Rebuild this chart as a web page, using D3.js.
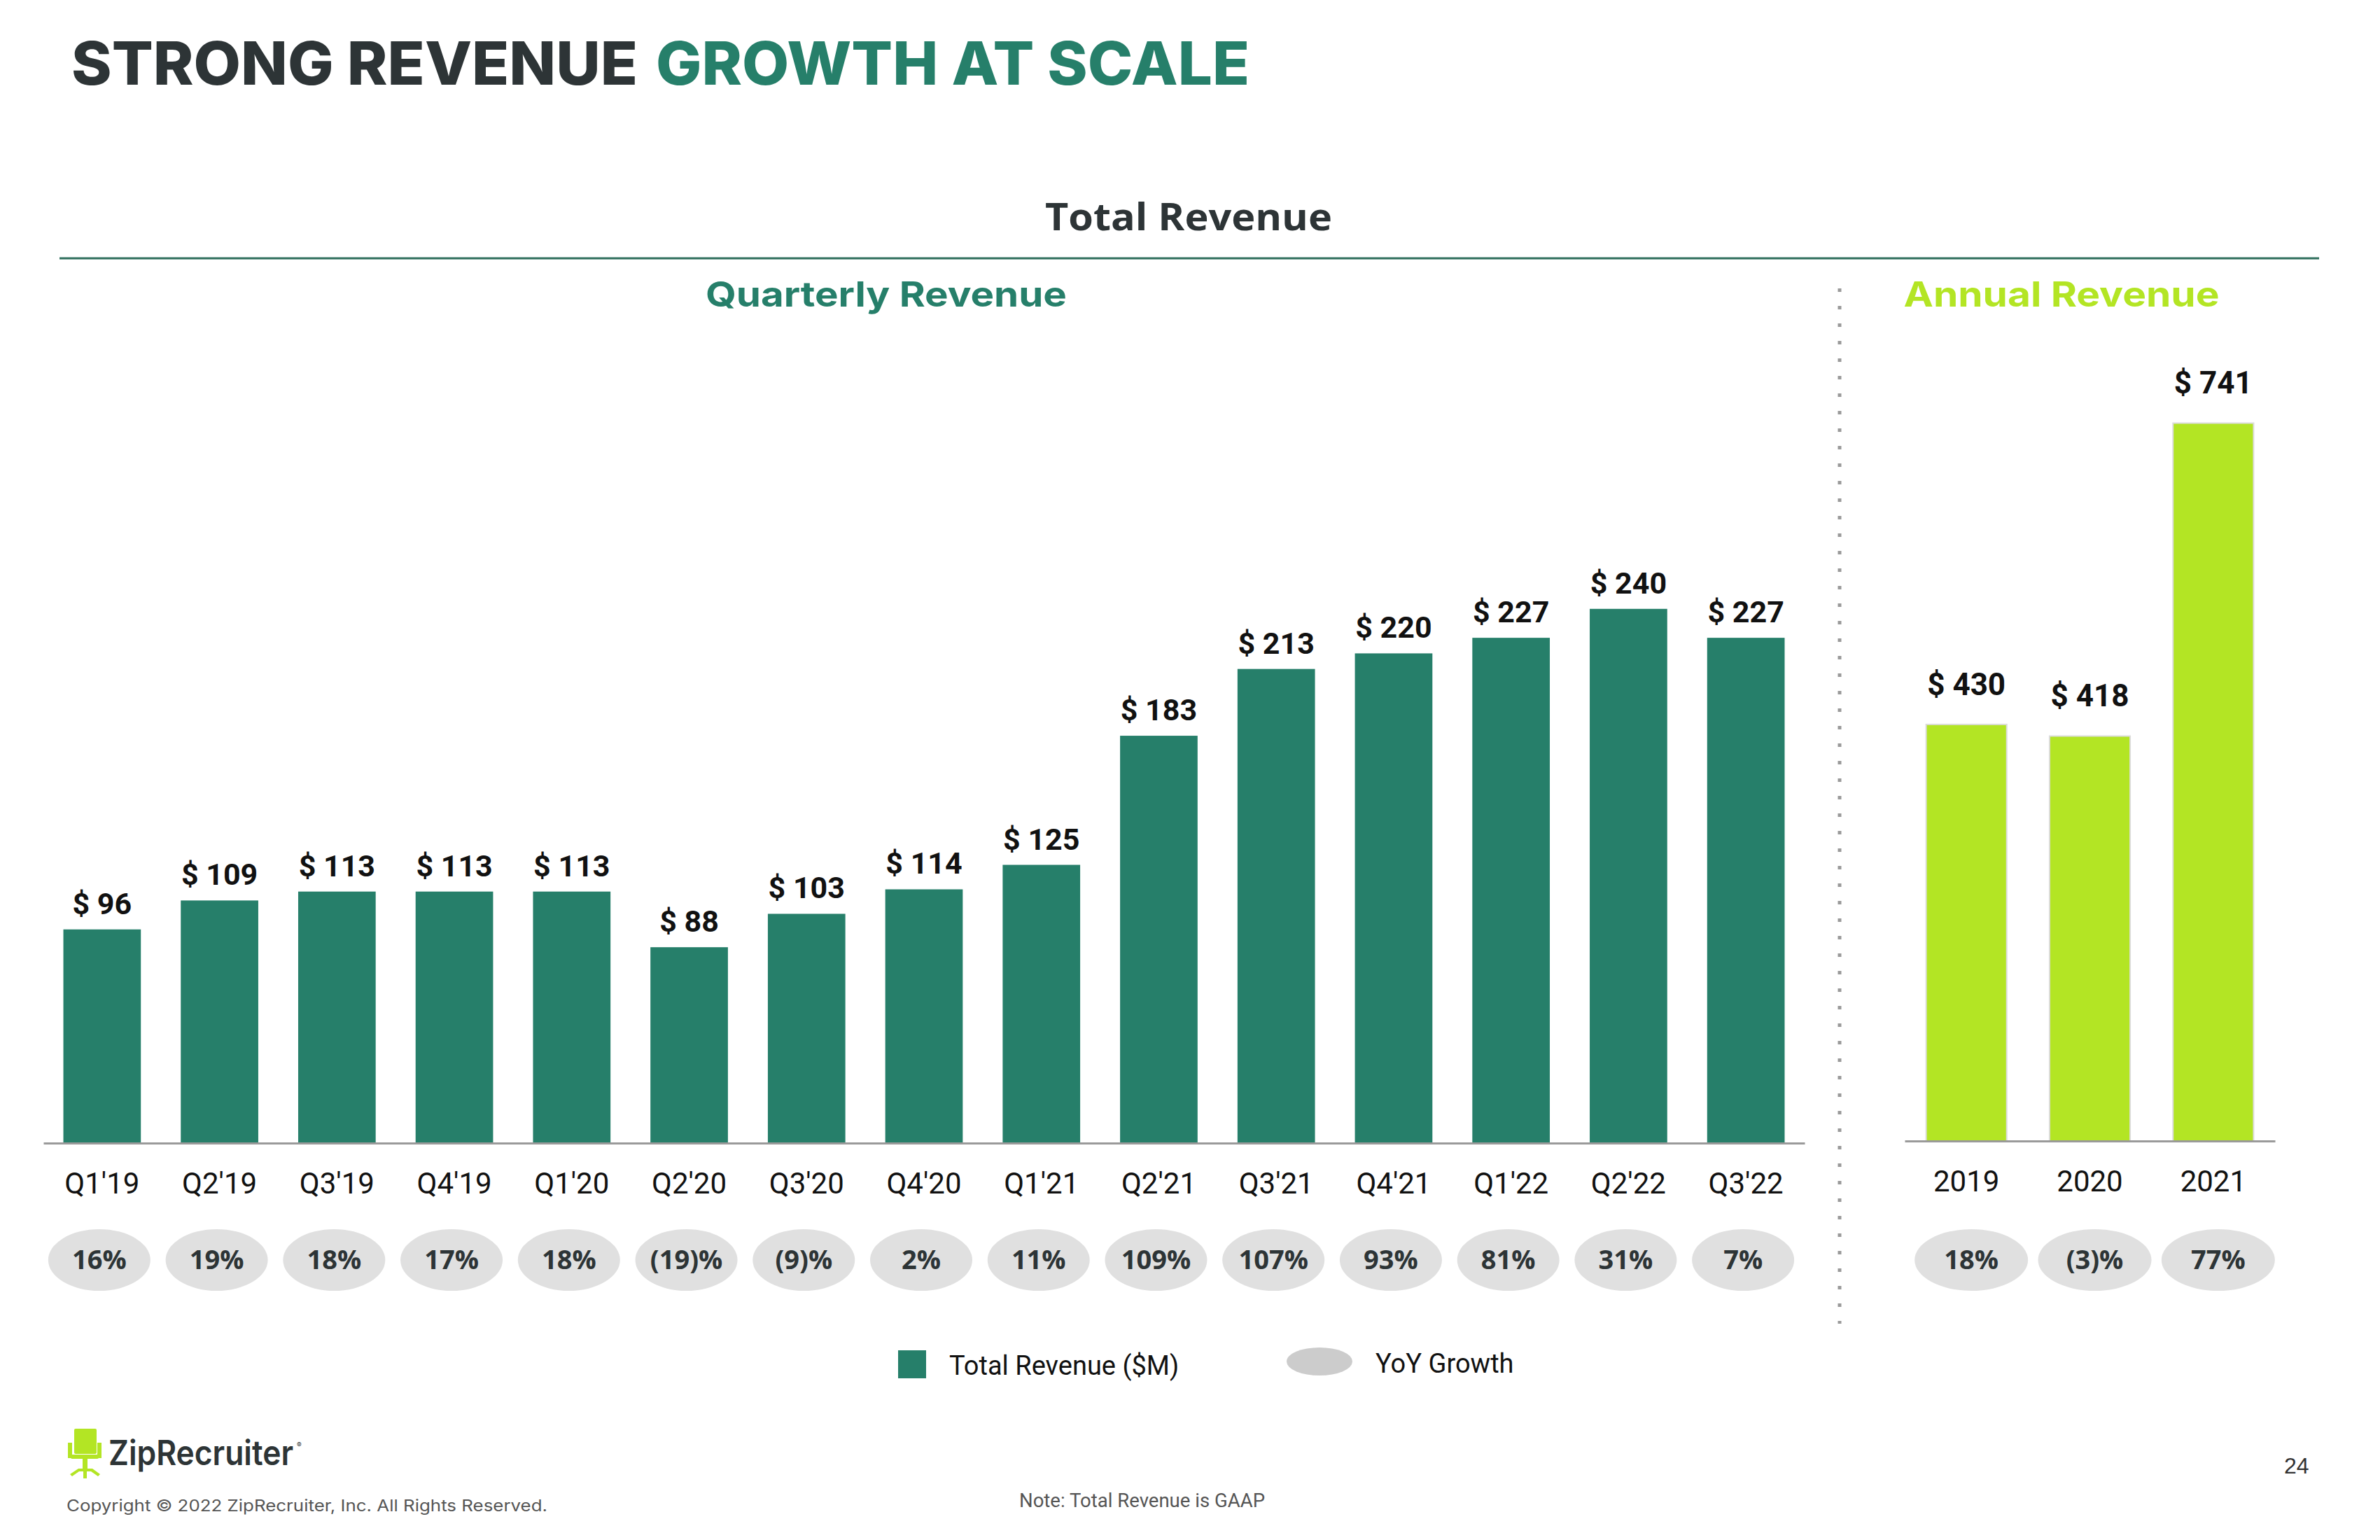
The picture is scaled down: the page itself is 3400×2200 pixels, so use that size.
<!DOCTYPE html>
<html>
<head>
<meta charset="utf-8">
<script src="https://cdn.jsdelivr.net/npm/d3@7/dist/d3.min.js"></script>
<style>
  html, body { margin: 0; padding: 0; background: #ffffff; }
  svg { display: block; }
</style>
</head>
<body>
<svg id="chart" width="3400" height="2200"></svg>
<script>
// ---------------- DATA ----------------
const quarters = ["Q1'19","Q2'19","Q3'19","Q4'19","Q1'20","Q2'20","Q3'20","Q4'20","Q1'21","Q2'21","Q3'21","Q4'21","Q1'22","Q2'22","Q3'22"];
const quarterlyRevenue = [96, 109, 113, 113, 113, 88, 103, 114, 125, 183, 213, 220, 227, 240, 227];
const quarterlyGrowth = ["16%","19%","18%","17%","18%","(19)%","(9)%","2%","11%","109%","107%","93%","81%","31%","7%"];
const years = ["2019","2020","2021"];
const annualRevenue = [430, 418, 741];
const annualGrowth = ["18%","(3)%","77%"];
const legendLabels = ["Total Revenue ($M)", "YoY Growth"];

// ---------------- STYLE ----------------
const DARK = "#2d3436";
const GREEN = "#267f6a";
const LIME = "#b3e524";
const PILL = "#e0e0e0";

const svg = d3.select("#chart");

// ---------------- TITLES ----------------
svg.append("text").attr("x", 102).attr("y", 121)
  .attr("font-family", "Inter, 'Open Sans', sans-serif").attr("font-weight", 800)
  .attr("font-size", 85).attr("fill", DARK)
  .attr("textLength", 809).attr("lengthAdjust", "spacingAndGlyphs")
  .text("STRONG REVENUE");
svg.append("text").attr("x", 937).attr("y", 121)
  .attr("font-family", "Inter, 'Open Sans', sans-serif").attr("font-weight", 800)
  .attr("font-size", 85).attr("fill", GREEN)
  .attr("textLength", 848).attr("lengthAdjust", "spacingAndGlyphs")
  .text("GROWTH AT SCALE");

svg.append("text").attr("x", 1698).attr("y", 329).attr("text-anchor", "middle")
  .attr("font-family", "'Open Sans', sans-serif").attr("font-weight", 700)
  .attr("font-size", 54).attr("fill", DARK)
  .attr("textLength", 410).attr("lengthAdjust", "spacingAndGlyphs")
  .text("Total Revenue");

svg.append("line").attr("x1", 85).attr("x2", 3313).attr("y1", 369).attr("y2", 369)
  .attr("stroke", "#2f6f5d").attr("stroke-width", 3);

svg.append("text").attr("x", 1266).attr("y", 438).attr("text-anchor", "middle")
  .attr("font-family", "Inter, sans-serif").attr("font-weight", 700)
  .attr("font-size", 50).attr("fill", GREEN)
  .attr("textLength", 516).attr("lengthAdjust", "spacingAndGlyphs")
  .text("Quarterly Revenue");
svg.append("text").attr("x", 2945).attr("y", 438).attr("text-anchor", "middle")
  .attr("font-family", "Inter, sans-serif").attr("font-weight", 700)
  .attr("font-size", 50).attr("fill", LIME)
  .attr("textLength", 451).attr("lengthAdjust", "spacingAndGlyphs")
  .text("Annual Revenue");

// dotted separator
svg.append("line").attr("x1", 2628).attr("x2", 2628).attr("y1", 412).attr("y2", 1891)
  .attr("stroke", "#9a9a9a").attr("stroke-width", 5).attr("stroke-dasharray", "5,20");

// ---------------- QUARTERLY CHART ----------------
const xQ = d3.scaleBand().domain(quarters).range([62, 2578]).paddingInner(0.34).paddingOuter(0.17);
const yQ = d3.scaleLinear().domain([0, 250]).range([1633, 1633 - 250 * 3.18]);

svg.append("g").selectAll("rect").data(quarterlyRevenue).join("rect")
  .attr("x", (d, i) => xQ(quarters[i]))
  .attr("width", xQ.bandwidth())
  .attr("y", d => yQ(d))
  .attr("height", d => yQ(0) - yQ(d))
  .attr("fill", GREEN);

svg.append("g").selectAll("text").data(quarterlyRevenue).join("text")
  .attr("x", (d, i) => xQ(quarters[i]) + xQ.bandwidth() / 2)
  .attr("y", d => yQ(d) - 22)
  .attr("text-anchor", "middle")
  .attr("font-family", "Roboto, sans-serif").attr("font-weight", 700)
  .attr("font-size", 43).attr("fill", "#111")
  .text(d => "$ " + d);

const axQ = svg.append("g").attr("transform", `translate(0,${yQ(0)})`)
  .call(d3.axisBottom(xQ).tickSize(0).tickSizeOuter(0));
axQ.select(".domain").attr("stroke", "#9a9a9a").attr("stroke-width", 3);
axQ.selectAll("text").attr("dy", null).attr("y", 72)
  .attr("font-family", "Roboto, sans-serif").attr("font-size", 42).attr("fill", "#111");

const pillsQ = svg.append("g").selectAll("g").data(quarterlyGrowth).join("g")
  .attr("transform", (d, i) => `translate(${xQ(quarters[i]) + xQ.bandwidth() / 2 - 4},1800)`);
pillsQ.append("ellipse").attr("rx", 73).attr("ry", 44).attr("fill", PILL);
pillsQ.append("text").attr("y", 13).attr("text-anchor", "middle")
  .attr("font-family", "'Open Sans', sans-serif").attr("font-weight", 700)
  .attr("font-size", 38).attr("fill", DARK)
  .text(d => d);

// ---------------- ANNUAL CHART ----------------
const xA = d3.scaleBand().domain(years).range([2721, 3250]).paddingInner(0.347).paddingOuter(0.1735);
const yA = d3.scaleLinear().domain([0, 800]).range([1630, 1630 - 800 * 1.384]);

svg.append("g").selectAll("rect").data(annualRevenue).join("rect")
  .attr("x", (d, i) => xA(years[i]))
  .attr("width", xA.bandwidth())
  .attr("y", d => yA(d))
  .attr("height", d => yA(0) - yA(d))
  .attr("fill", LIME)
  .attr("stroke", "#dcdcdc").attr("stroke-width", 2);

svg.append("g").selectAll("text").data(annualRevenue).join("text")
  .attr("x", (d, i) => xA(years[i]) + xA.bandwidth() / 2)
  .attr("y", d => yA(d) - 42)
  .attr("text-anchor", "middle")
  .attr("font-family", "Roboto, sans-serif").attr("font-weight", 700)
  .attr("font-size", 44).attr("fill", "#111")
  .text(d => "$ " + d);

const axA = svg.append("g").attr("transform", `translate(0,${yA(0)})`)
  .call(d3.axisBottom(xA).tickSize(0).tickSizeOuter(0));
axA.select(".domain").attr("stroke", "#9a9a9a").attr("stroke-width", 3);
axA.selectAll("text").attr("dy", null).attr("y", 72)
  .attr("font-family", "Roboto, sans-serif").attr("font-size", 42).attr("fill", "#111");

const pillsA = svg.append("g").selectAll("g").data(annualGrowth).join("g")
  .attr("transform", (d, i) => `translate(${xA(years[i]) + xA.bandwidth() / 2 + 7},1800)`);
pillsA.append("ellipse").attr("rx", 81).attr("ry", 44).attr("fill", PILL);
pillsA.append("text").attr("y", 13).attr("text-anchor", "middle")
  .attr("font-family", "'Open Sans', sans-serif").attr("font-weight", 700)
  .attr("font-size", 38).attr("fill", DARK)
  .text(d => d);

// ---------------- LEGEND ----------------
svg.append("rect").attr("x", 1283).attr("y", 1929).attr("width", 40).attr("height", 40).attr("fill", GREEN);
svg.append("text").attr("x", 1356).attr("y", 1964)
  .attr("font-family", "Roboto, sans-serif").attr("font-size", 38).attr("fill", "#111")
  .text(legendLabels[0]);
svg.append("ellipse").attr("cx", 1885).attr("cy", 1945).attr("rx", 47).attr("ry", 20).attr("fill", "#cccccc");
svg.append("text").attr("x", 1965).attr("y", 1961)
  .attr("font-family", "Roboto, sans-serif").attr("font-size", 38).attr("fill", "#111")
  .text(legendLabels[1]);

// ---------------- FOOTER ----------------
svg.append("text").attr("x", 1456).attr("y", 2153)
  .attr("font-family", "Roboto, sans-serif").attr("font-size", 27).attr("fill", "#555")
  .attr("textLength", 351).attr("lengthAdjust", "spacingAndGlyphs")
  .text("Note: Total Revenue is GAAP");

svg.append("text").attr("x", 3263).attr("y", 2105)
  .attr("font-family", "'Liberation Sans', Arial, sans-serif").attr("font-size", 32).attr("fill", "#333")
  .text("24");

// logo chair icon
const logo = svg.append("g").attr("fill", LIME).attr("stroke", "none");
logo.append("rect").attr("x", 106).attr("y", 2041).attr("width", 32).attr("height", 36).attr("rx", 2);
logo.append("rect").attr("x", 97).attr("y", 2061).attr("width", 6).attr("height", 22);
logo.append("rect").attr("x", 139).attr("y", 2061).attr("width", 6).attr("height", 22);
logo.append("rect").attr("x", 101).attr("y", 2078).attr("width", 40).attr("height", 6).attr("rx", 2);
logo.append("rect").attr("x", 118).attr("y", 2084).attr("width", 7).attr("height", 16);
logo.append("path").attr("d", "M100,2106 L112,2098 L132,2098 L143,2106 L140,2109 L130,2102 L124,2102 L124,2112 L119,2112 L119,2102 L113,2102 L103,2109 Z");

svg.append("text").attr("x", 155).attr("y", 2093)
  .attr("font-family", "Inter, sans-serif").attr("font-weight", 600)
  .attr("font-size", 49).attr("fill", DARK)
  .attr("textLength", 264).attr("lengthAdjust", "spacingAndGlyphs")
  .text("ZipRecruiter");
svg.append("text").attr("x", 424).attr("y", 2068)
  .attr("font-family", "Inter, sans-serif").attr("font-size", 10).attr("fill", DARK)
  .text("®");

svg.append("text").attr("x", 95).attr("y", 2159)
  .attr("font-family", "Inter, sans-serif").attr("font-weight", 400)
  .attr("font-size", 23).attr("fill", "#555")
  .attr("textLength", 687).attr("lengthAdjust", "spacingAndGlyphs")
  .text("Copyright © 2022 ZipRecruiter, Inc. All Rights Reserved.");
</script>
</body>
</html>
